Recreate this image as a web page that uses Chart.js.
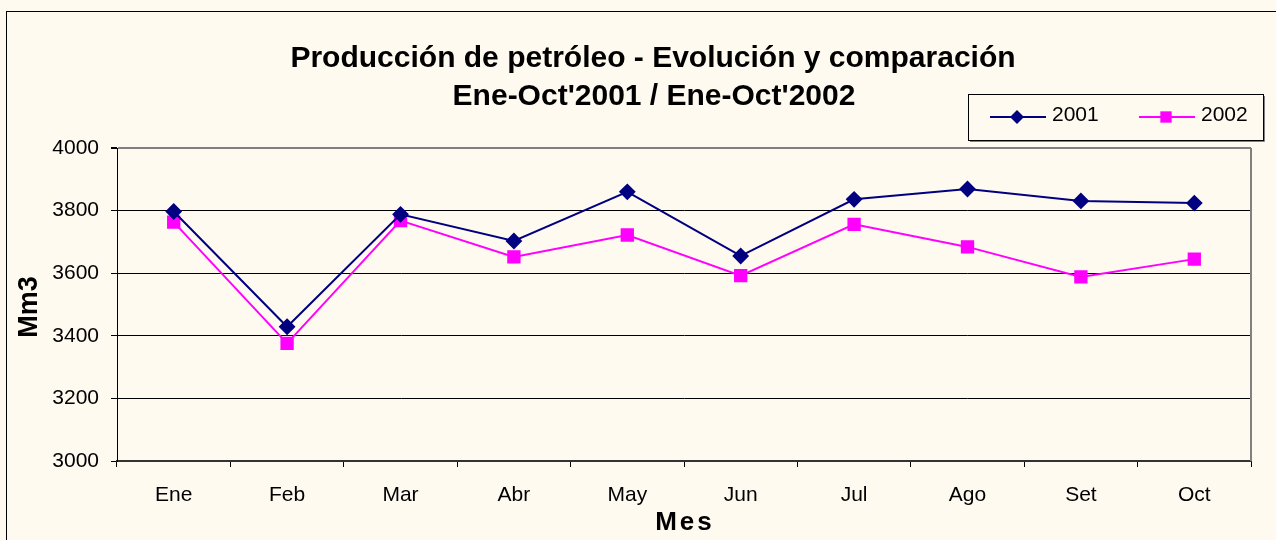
<!DOCTYPE html>
<html lang="es">
<head>
<meta charset="utf-8">
<title>Producción de petróleo</title>
<script src="https://cdn.jsdelivr.net/npm/chart.js@4/dist/chart.umd.min.js"></script>
<style>
    html, body { margin: 0; padding: 0; background: #FFFAF0; }
    #caja { width: 1276px; height: 540px; }
</style>
</head>
<body>
<div id="caja"><canvas id="grafico-petroleo" width="1276" height="540"></canvas></div>
<script>
const meses     = ['Ene', 'Feb', 'Mar', 'Abr', 'May', 'Jun', 'Jul', 'Ago', 'Set', 'Oct'];
const prod2001  = [3797, 3429, 3788, 3703, 3860, 3655, 3836, 3869, 3831, 3824];
const prod2002  = [3763, 3376, 3768, 3652, 3722, 3592, 3756, 3684, 3588, 3645];
const titulos   = ['Producción de petróleo - Evolución y comparación', "Ene-Oct'2001 / Ene-Oct'2002"];
const ejeY      = { min: 3000, max: 4000, paso: 200 };

const FUENTE = '"Liberation Sans", Arial, sans-serif';
const FONDO  = '#FFFAF0';

// fondo, marco exterior, titulos y textos de ejes
const decoracion = {
    id: 'decoracion',
    beforeDraw(chart) {
        const ctx = chart.ctx;
        ctx.save();
        ctx.fillStyle = FONDO;
        ctx.fillRect(0, 0, chart.width, chart.height);
        ctx.strokeStyle = '#000';
        ctx.lineWidth = 1;
        ctx.strokeRect(6.5, 11.5, chart.width + 20, chart.height + 20);
        ctx.restore();
    },
    afterDraw(chart) {
        const ctx = chart.ctx;
        const area = chart.chartArea;
        ctx.save();

        // borde derecho gris del area
        ctx.strokeStyle = '#808080';
        ctx.lineWidth = 2;
        ctx.beginPath();
        ctx.moveTo(area.right, area.top);
        ctx.lineTo(area.right, area.bottom);
        ctx.stroke();

        ctx.fillStyle = '#000';
        ctx.textAlign = 'center';
        ctx.textBaseline = 'alphabetic';
        ctx.font = 'bold 30px ' + FUENTE;
        ctx.fillText(titulos[0], 653, 67);
        ctx.fillText(titulos[1], 654, 105);

        ctx.textBaseline = 'middle';
        ctx.font = 'bold 27px ' + FUENTE;
        ctx.save();
        ctx.translate(30, 307);
        ctx.rotate(-Math.PI / 2);
        ctx.fillText('Mm3', 0, 0);
        ctx.restore();

        ctx.font = 'bold 26px ' + FUENTE;
        ctx.letterSpacing = '3px';
        ctx.fillText('Mes', 685, 523);
        ctx.letterSpacing = '0px';

        dibujarLeyenda(chart, ctx);
        ctx.restore();
    }
};

function dibujarLeyenda(chart, ctx) {
    const x = 968, y = 94, w = 295, h = 46;
    ctx.fillStyle = FONDO;
    ctx.fillRect(x, y, w, h);
    ctx.strokeStyle = '#000';
    ctx.lineWidth = 1;
    ctx.strokeRect(x + 0.5, y + 0.5, w, h);
    ctx.strokeStyle = '#808080';
    ctx.beginPath();
    ctx.moveTo(x + w + 1.5, y + 2);
    ctx.lineTo(x + w + 1.5, y + h + 1.5);
    ctx.lineTo(x + 2, y + h + 1.5);
    ctx.stroke();

    const posiciones = [990, 1139];
    chart.data.datasets.forEach((ds, i) => {
        const lx = posiciones[i];
        const ly = 117;
        ctx.strokeStyle = ds.borderColor;
        ctx.lineWidth = 2;
        ctx.beginPath();
        ctx.moveTo(lx, ly);
        ctx.lineTo(lx + 56, ly);
        ctx.stroke();
        ctx.fillStyle = ds.pointBackgroundColor;
        ctx.strokeStyle = ds.pointBorderColor;
        ctx.lineWidth = 1;
        Chart.helpers.drawPoint(ctx, { pointStyle: ds.pointStyle, radius: ds.pointRadius, rotation: 0 }, lx + 27, ly);
        ctx.fillStyle = '#000';
        ctx.font = '21px ' + FUENTE;
        ctx.textAlign = 'left';
        ctx.textBaseline = 'middle';
        ctx.fillText(ds.label, lx + 62, 115);
    });
}

function crearGrafico() {
    const canvas = document.getElementById('grafico-petroleo');

    return new Chart(canvas, {
        type: 'line',
        data: {
            labels: meses,
            datasets: [
                {
                    label: '2001',
                    data: prod2001,
                    borderColor: '#000080',
                    borderWidth: 2,
                    pointStyle: 'rectRot',
                    pointRadius: 7,
                    pointBackgroundColor: '#000080',
                    pointBorderColor: '#000080',
                    tension: 0,
                },
                {
                    label: '2002',
                    data: prod2002,
                    borderColor: '#FF00FF',
                    borderWidth: 2,
                    pointStyle: 'rect',
                    pointRadius: 8,
                    pointBackgroundColor: '#FF00FF',
                    pointBorderColor: '#FF00FF',
                    tension: 0,
                }
            ]
        },
        options: {
            responsive: false,
            animation: false,
            devicePixelRatio: 1,
            layout: { padding: { left: 6, right: 25, top: 148, bottom: 0 } },
            plugins: {
                legend: { display: false },
                title: { display: false },
                tooltip: { enabled: false }
            },
            scales: {
                x: {
                    offset: true,
                    afterFit: s => { s.height = 79; },
                    grid: { offset: true, drawOnChartArea: false, drawTicks: true, tickLength: 6, color: '#000' },
                    border: { color: '#333', width: 2 },
                    ticks: { color: '#000', font: { family: FUENTE, size: 21 }, padding: 16, maxRotation: 0 }
                },
                y: {
                    min: ejeY.min,
                    max: ejeY.max,
                    afterFit: s => { s.width = 111; },
                    grid: {
                        color: c => c.tick && c.tick.value === ejeY.max ? '#808080' : '#000',
                        lineWidth: c => c.tick && c.tick.value === ejeY.max ? 2 : 1,
                        tickColor: '#000',
                        tickLength: 6
                    },
                    border: { color: '#000', width: 1 },
                    ticks: {
                        stepSize: ejeY.paso,
                        color: '#000',
                        padding: 12,
                        font: { family: FUENTE, size: 21 },
                        callback: v => String(v)
                    }
                }
            }
        },
        plugins: [decoracion]
    });
}

document.addEventListener('DOMContentLoaded', () => {
    crearGrafico();
});
</script>
</body>
</html>
